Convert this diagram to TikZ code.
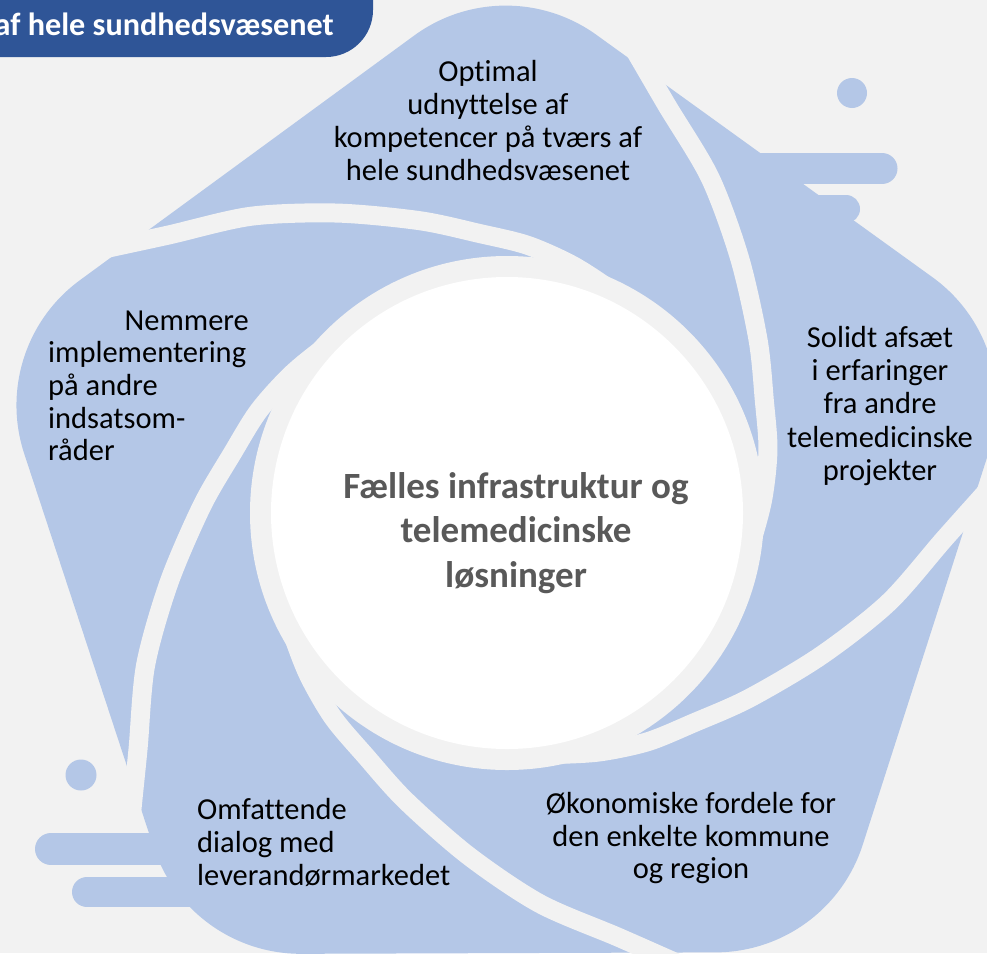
\documentclass[tikz,border=0pt]{standalone}
\usepackage{fontspec}
\setmainfont{Carlito}[Ligatures={NoCommon,NoRequired,NoContextual}]
\definecolor{bgc}{HTML}{F2F2F2}
\definecolor{bladec}{HTML}{B4C7E7}
\definecolor{boxc}{HTML}{2F5597}
\definecolor{ctextc}{HTML}{595959}
\tikzset{
  gapline/.style={draw=bgc, line width=19pt},
  barline/.style={draw=bladec, line cap=round},
  lbl/.style={font=\fontsize{30.5}{33}\selectfont, inner sep=0pt, text=black},
  ctr/.style={font=\fontsize{37}{44}\selectfont\bfseries, inner sep=0pt, text=ctextc},
  boxtxt/.style={font=\fontsize{32.2}{37}\selectfont\bfseries, inner sep=0pt, text=white},
}
\begin{document}
\begin{tikzpicture}[x=1pt,y=1pt]
\useasboundingbox (0,-953) rectangle (987,0);
\fill[bgc] (0,-953) rectangle (987,0);
\begin{scope}
\clip (0,-953) rectangle (987,0);
\begin{scope}[shift={(507,-513)}]
  % rounded pentagon silhouette
  \fill[bladec] (482.35,62.69) arc[start angle=-17.8,end angle=54.2,radius=155]
    -- (89.44,478.11) arc[start angle=54.2,end angle=126.2,radius=155]
    -- (-427.07,232.81) arc[start angle=126.2,end angle=198.2,radius=155]
    -- (-353.39,-334.23) arc[start angle=198.2,end angle=270.2,radius=155]
    -- (208.67,-439.37) arc[start angle=270.2,end angle=342.2,radius=155]
    -- cycle;
  % spiral gaps
  \foreach \a in {0,72,144,216,288}
    \draw[gapline, rotate=\a] plot[smooth] coordinates {(80:530) (75.4:487) (68.6:438) (58.8:392) (47.6:345) (34.6:305) (23.7:281) (13.6:268.5) (3:256) (-8:245) (-15:238)};
  % central ring and disc
  \fill[bgc] (0,0) circle[radius=257];
  \fill[white] (0,0) circle[radius=236];
\end{scope}
% speed lines and dots
\draw[barline, line width=31pt] (745,-168.5) -- (882,-168.5);
\draw[barline, line width=28pt] (800,-209) -- (846,-209);
\draw[barline, line width=32pt] (51,-849) -- (200,-849);
\draw[barline, line width=30pt] (87,-892) -- (250,-892);
\fill[bladec] (852,-93) circle[radius=15];
\fill[bladec] (81,-775) circle[radius=15.5];
% title box
\fill[boxc, rounded corners=47pt] (-120,120) rectangle (373,-57);
\node[boxtxt, anchor=base east] (boxt) at (334,-35) {af hele sundhedsvæsenet};
\end{scope}
% top blade
\node[lbl, anchor=base] (t1) at (488,-81) {Optimal};
\node[lbl, anchor=base] (t2) at (488,-114) {udnyttelse af};
\node[lbl, anchor=base] (t3) at (488,-147) {kompetencer på tværs af};
\node[lbl, anchor=base] (t4) at (488,-180) {hele sundhedsvæsenet};
% right blade
\node[lbl, anchor=base] (r1) at (880,-347) {Solidt afsæt};
\node[lbl, anchor=base] (r2) at (880,-380) {i erfaringer};
\node[lbl, anchor=base] (r3) at (880,-413) {fra andre};
\node[lbl, anchor=base] (r4) at (880,-447) {telemedicinske};
\node[lbl, anchor=base] (r5) at (880,-480) {projekter};
% left blade
\node[lbl, anchor=base east] (l1) at (249,-330) {Nemmere};
\node[lbl, anchor=base west] (l2) at (48,-362) {implementering};
\node[lbl, anchor=base west] (l3) at (48,-395) {på andre};
\node[lbl, anchor=base west] (l4) at (48,-428) {indsatsom-};
\node[lbl, anchor=base west] (l5) at (48,-460) {råder};
% bottom-left blade
\node[lbl, anchor=base west] (bl1) at (197,-819) {Omfattende};
\node[lbl, anchor=base west] (bl2) at (197,-852) {dialog med};
\node[lbl, anchor=base west] (bl3) at (197,-885) {leverandørmarkedet};
% bottom-right blade
\node[lbl, anchor=base] (br1) at (691,-813) {Økonomiske fordele for};
\node[lbl, anchor=base] (br2) at (691,-846) {den enkelte kommune};
\node[lbl, anchor=base] (br3) at (691,-878) {og region};
% centre
\node[ctr, anchor=base] (c1) at (516,-498) {Fælles infrastruktur og};
\node[ctr, anchor=base] (c2) at (516,-542) {telemedicinske};
\node[ctr, anchor=base] (c3) at (516,-587) {løsninger};
\end{tikzpicture}
\end{document}
